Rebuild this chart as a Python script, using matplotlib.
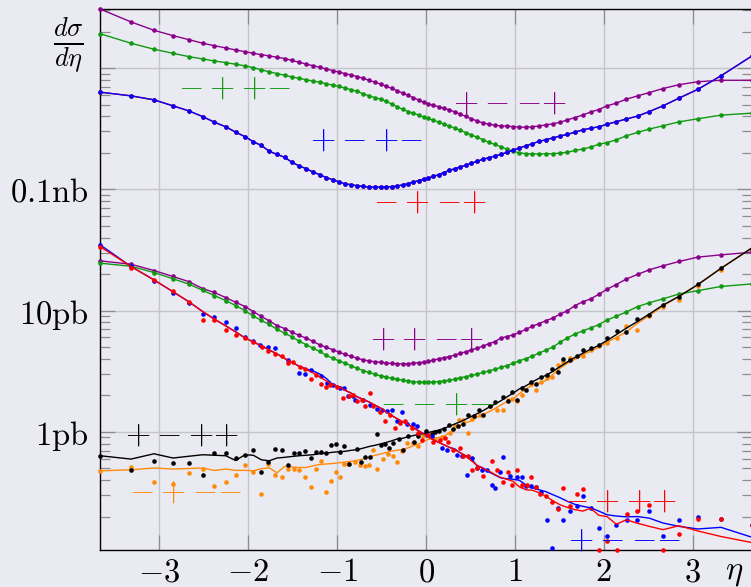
import matplotlib
matplotlib.use('Agg')
import matplotlib.pyplot as plt
from matplotlib.ticker import LogLocator, NullFormatter, NullLocator

plt.rcParams['mathtext.fontset'] = 'cm'
plt.rcParams['font.family'] = ['DejaVu Serif']

# eta bins shared by all the smooth curves
ETA = [-3.667, -3.318, -3.060, -2.846, -2.666, -2.512, -2.382, -2.253, -2.141, -2.036,
       -1.943, -1.852, -1.763, -1.676, -1.591, -1.508, -1.427, -1.348, -1.271, -1.196,
       -1.122, -1.050, -0.979, -0.909, -0.840, -0.772, -0.705, -0.639, -0.574, -0.510,
       -0.447, -0.385, -0.323, -0.262, -0.201, -0.141, -0.084, -0.028,
       0.028, 0.084, 0.141, 0.201, 0.262, 0.323, 0.385, 0.447, 0.510, 0.574,
       0.639, 0.705, 0.772, 0.840, 0.909, 0.979, 1.050, 1.122, 1.196, 1.271,
       1.348, 1.427, 1.508, 1.591, 1.676, 1.763, 1.852, 1.943, 2.036, 2.141,
       2.253, 2.382, 2.512, 2.666, 2.846, 3.060, 3.318, 3.667]

# d sigma / d eta in pb
TOP_PURPLE = [3071, 2402, 2050, 1851, 1715, 1602, 1530, 1466, 1410, 1365,
              1324, 1290, 1259, 1228, 1199, 1156, 1117, 1079, 1045, 1017,
              983, 953, 926, 900, 875, 851, 823, 792, 764, 737,
              710, 679, 650, 622, 594, 570, 546, 523,
              507, 493, 480, 466, 452, 435, 417, 399, 382, 367,
              353, 345, 338, 334, 332, 329, 326, 325, 328, 333,
              340, 347, 357, 374, 391, 410, 434, 455, 488, 514,
              554, 590, 628, 678, 729, 772, 793, 793]
TOP_GREEN = [1921, 1602, 1430, 1324, 1242, 1189, 1145, 1109, 1076, 1042,
             1009, 966, 932, 900, 873, 846, 823, 802, 781, 764,
             742, 723, 705, 684, 662, 641, 613, 590, 571, 553,
             532, 504, 480, 456, 438, 423, 410, 396,
             384, 371, 359, 345, 332, 320, 307, 294, 281, 269,
             257, 244, 235, 225, 214, 206, 200, 197, 196, 196,
             196, 197, 199, 202, 209, 215, 223, 235, 243, 256,
             276, 295, 314, 334, 360, 382, 409, 425]
TOP_BLUE = [633, 590, 547, 488, 443, 398, 358, 328, 296, 272,
            247, 230, 206, 194, 184, 167, 156, 148, 139, 132,
            125, 120, 115, 111, 109, 107, 105.5, 104.5, 104.3, 104.3,
            104.7, 105.3, 106.3, 109, 111.6, 114.7, 118, 121,
            124, 128, 132, 137.5, 143, 148, 152.6, 158, 164, 170,
            177, 182, 188, 194, 201.5, 210, 219, 228, 238, 248,
            256.5, 265, 275, 284, 296, 309, 319, 328, 344, 361,
            380, 402, 438, 488, 565, 669, 863, 1259]
TOP_RED = list(TOP_BLUE)  # the red curve sits under the blue one
MID_PURPLE = [25.7, 24.1, 21.4, 19.1, 17.3, 15.2, 14.1, 12.8, 11.7, 10.8,
              9.82, 8.94, 8.22, 7.52, 7.11, 6.65, 6.23, 5.93, 5.57, 5.22,
              4.98, 4.76, 4.54, 4.35, 4.19, 4.04, 3.92, 3.84, 3.78, 3.75,
              3.69, 3.66, 3.65, 3.63, 3.65, 3.68, 3.72, 3.75,
              3.81, 3.90, 4.00, 4.08, 4.17, 4.29, 4.44, 4.57, 4.74, 4.90,
              5.08, 5.33, 5.53, 5.92, 6.11, 6.29, 6.60, 7.00, 7.42, 7.81,
              8.25, 8.68, 9.34, 9.97, 11.0, 11.8, 12.5, 13.6, 15.0, 16.4,
              18.2, 19.9, 21.7, 23.4, 25.4, 27.6, 28.8, 30.3]
MID_GREEN = [24.6, 23.2, 20.6, 18.3, 16.5, 14.7, 13.3, 12.1, 11.0, 9.97,
             9.02, 8.29, 7.68, 7.01, 6.52, 6.06, 5.60, 5.23, 4.90, 4.60,
             4.27, 4.04, 3.85, 3.67, 3.51, 3.33, 3.20, 3.09, 2.98, 2.89,
             2.83, 2.77, 2.71, 2.67, 2.62, 2.59, 2.58, 2.56,
             2.56, 2.58, 2.60, 2.63, 2.66, 2.72, 2.79, 2.85, 2.92, 2.99,
             3.09, 3.18, 3.27, 3.40, 3.52, 3.67, 3.85, 4.02, 4.20, 4.46,
             4.71, 5.02, 5.47, 5.95, 6.40, 6.80, 7.19, 7.65, 8.37, 8.98,
             9.74, 10.8, 11.6, 12.5, 13.7, 14.6, 15.8, 16.6]

# lines of the noisy channels
DESC_RED_LINE = [33.7, 23.1, 17.9, 14.3, 11.8, 9.82, 8.51, 7.48, 6.67, 5.95,
                 5.52, 5.12, 4.74, 4.39, 4.03, 3.74, 3.47, 3.27, 3.06, 2.84,
                 2.63, 2.46, 2.35, 2.20, 2.08, 1.94, 1.85, 1.76, 1.66, 1.57,
                 1.46, 1.36, 1.28, 1.21, 1.15, 1.08, 1.02, 0.964,
                 0.911, 0.859, 0.819, 0.782, 0.745, 0.711, 0.672, 0.629, 0.577, 0.530,
                 0.500, 0.477, 0.446, 0.421, 0.406, 0.391, 0.352, 0.333, 0.330, 0.315,
                 0.294, 0.270, 0.250, 0.238, 0.228, 0.222, 0.234, 0.205, 0.200, 0.173,
                 0.188, 0.176, 0.166, 0.156, 0.168, 0.152, 0.137, 0.122]
DESC_BLUE_LINE = [34.9, 23.1, 17.9, 14.3, 11.8, 9.82, 8.51, 7.48, 6.67, 5.95,
                  5.52, 5.12, 4.74, 4.39, 4.03, 3.74, 3.47, 3.30, 3.18, 3.00,
                  2.76, 2.46, 2.35, 2.20, 2.08, 1.94, 1.85, 1.76, 1.66, 1.57,
                  1.46, 1.36, 1.28, 1.21, 1.15, 1.08, 1.02, 0.964,
                  0.911, 0.859, 0.819, 0.782, 0.745, 0.724, 0.672, 0.635, 0.599, 0.525,
                  0.505, 0.468, 0.442, 0.417, 0.410, 0.406, 0.398, 0.366, 0.345, 0.333,
                  0.321, 0.303, 0.286, 0.267, 0.252, 0.243, 0.236, 0.222, 0.207, 0.202,
                  0.199, 0.200, 0.194, 0.177, 0.166, 0.158, 0.163, 0.135]
ASC_BLACK_LINE = [0.635, 0.596, 0.659, 0.608, 0.629, 0.647, 0.641, 0.635, 0.580, 0.647,
                  0.641, 0.588, 0.577, 0.608, 0.616, 0.626, 0.635, 0.641, 0.647, 0.659,
                  0.668, 0.678, 0.685, 0.691, 0.704, 0.713, 0.734, 0.757, 0.774, 0.795,
                  0.818, 0.843, 0.874, 0.885, 0.911, 0.932, 0.953, 0.967,
                  0.987, 1.01, 1.03, 1.07, 1.11, 1.16, 1.21, 1.27, 1.34, 1.41,
                  1.49, 1.59, 1.69, 1.80, 1.94, 2.08, 2.26, 2.39, 2.58, 2.76,
                  2.92, 3.15, 3.45, 3.77, 4.11, 4.44, 4.80, 5.16, 5.66, 6.33,
                  7.16, 8.15, 9.36, 11.1, 13.1, 16.4, 22.3, 32.9]
ASC_ORANGE_LINE = [0.477, 0.486, 0.503, 0.493, 0.498, 0.503, 0.480, 0.493, 0.481, 0.481,
                   0.477, 0.496, 0.505, 0.459, 0.518, 0.513, 0.507, 0.508, 0.525, 0.537,
                   0.543, 0.548, 0.555, 0.563, 0.572, 0.582, 0.596, 0.619, 0.641, 0.656,
                   0.675, 0.695, 0.704, 0.717, 0.738, 0.767, 0.795, 0.827,
                   0.870, 0.885, 0.896, 0.919, 0.983, 1.05, 1.13, 1.19, 1.23, 1.32,
                   1.38, 1.46, 1.55, 1.66, 1.77, 1.87, 2.06, 2.26, 2.41, 2.53,
                   2.65, 2.97, 3.35, 3.67, 3.96, 4.31, 4.62, 4.99, 5.48, 6.00,
                   6.67, 7.88, 9.10, 10.9, 13.1, 16.4, 22.3, 32.9]

# scattered points of the noisy channels
DESC_RED_DOT_ETA = [-3.667, -3.318, -3.060, -2.846, -2.666, -2.512, -2.382, -2.253, -2.141, -2.036,
                    -1.943, -1.848, -1.774, -1.699, -1.623, -1.549, -1.493, -1.417, -1.361, -1.293,
                    -1.237, -1.181, -1.125, -1.080, -1.004, -0.930, -0.863, -0.818, -0.780, -0.723,
                    -0.686, -0.630, -0.593, -0.517, -0.461, -0.405, -0.349, -0.292, -0.236, -0.161,
                    -0.087, -0.048, 0.026, 0.082, 0.157, 0.214, 0.251, 0.307, 0.382, 0.420,
                    0.476, 0.514, 0.570, 0.645, 0.739, 0.795, 0.870, 0.926, 0.964, 1.020,
                    1.076, 1.133, 1.181, 1.237, 1.282, 1.350, 1.414, 1.488, 1.544, 1.620,
                    1.695, 1.769, 1.946, 2.033, 2.145, 2.258, 2.377, 2.512, 2.670, 2.846,
                    3.056, 3.318, 3.667]
DESC_RED_DOT = [33.7, 22.6, 17.9, 14.6, 11.8, 8.38, 8.38, 6.93, 6.31, 5.93,
                5.48, 5.05, 4.65, 4.39, 4.18, 3.68, 3.73, 3.45, 3.32, 2.72,
                2.95, 2.48, 2.36, 2.44, 2.36, 1.90, 1.99, 2.02, 1.78, 1.84,
                1.62, 2.09, 1.62, 1.47, 1.22, 1.38, 1.07, 1.18, 1.22, 1.07,
                0.980, 0.859, 0.946, 0.832, 0.859, 0.890, 0.832, 0.711, 0.734, 0.635,
                0.626, 0.486, 0.503, 0.434, 0.580, 0.486, 0.389, 0.469, 0.366, 0.486,
                0.366, 0.361, 0.424, 0.354, 0.309, 0.294, 0.266, 0.230, 0.344, 0.246,
                0.309, 0.337, 0.106, 0.125, 0.106, 0.210, 0.221, 0.250, 0.106, 0.144,
                0.191, 0.191, 0.171]
DESC_BLUE_DOT_ETA = [-3.667, -3.318, -3.060, -2.846, -2.666, -2.512, -2.382, -2.253, -2.141, -2.036,
                     -1.943, -1.867, -1.774, -1.699, -1.549, -1.425, -1.361, -1.293, -1.181, -1.117,
                     -1.043, -0.967, -0.919, -0.874, -0.825, -0.799, -0.705, -0.630, -0.555, -0.498,
                     -0.442, -0.386, -0.330, -0.273, -0.217, -0.143, -0.105, 0.008, 0.064, 0.177,
                     0.233, 0.345, 0.402, 0.458, 0.514, 0.570, 0.627, 0.683, 0.739, 0.776,
                     0.832, 0.870, 0.945, 1.020, 1.076, 1.125, 1.181, 1.237, 1.290, 1.358,
                     1.414, 1.488, 1.544, 1.620, 1.695, 1.769, 1.856, 1.946, 2.033, 2.137,
                     2.258, 2.377, 2.512, 2.670, 2.846, 3.056, 3.318, 3.667]
DESC_BLUE_DOT = [34.9, 23.4, 17.7, 13.9, 11.5, 9.36, 8.80, 8.00, 7.17, 6.11,
                 5.62, 5.21, 5.05, 4.88, 3.92, 3.08, 3.00, 3.24, 2.89, 2.53,
                 2.44, 2.29, 2.29, 1.96, 1.98, 1.84, 1.84, 1.67, 1.55, 1.52,
                 1.49, 1.52, 1.22, 1.47, 1.15, 1.15, 1.11, 0.946, 0.915, 0.734,
                 0.711, 0.647, 0.626, 0.442, 0.608, 0.503, 0.486, 0.486, 0.366, 0.344,
                 0.469, 0.620, 0.434, 0.424, 0.424, 0.359, 0.359, 0.352, 0.321, 0.186,
                 0.111, 0.235, 0.186, 0.221, 0.246, 0.294, 0.235, 0.160, 0.138, 0.171,
                 0.186, 0.186, 0.224, 0.138, 0.186, 0.199, 0.191, 0.171]
ASC_BLACK_DOT_ETA = [-3.667, -3.318, -3.060, -2.846, -2.666, -2.512, -2.382, -2.253, -2.141, -2.036,
                     -1.943, -1.856, -1.774, -1.699, -1.623, -1.549, -1.481, -1.425, -1.361, -1.297,
                     -1.241, -1.181, -1.125, -1.066, -1.016, -0.967, -0.920, -0.870, -0.780, -0.735,
                     -0.683, -0.630, -0.555, -0.506, -0.465, -0.413, -0.375, -0.304, -0.255, -0.199,
                     -0.135, -0.087, 0.000, 0.064, 0.101, 0.150, 0.202, 0.262, 0.307, 0.363,
                     0.420, 0.476, 0.540, 0.600, 0.645, 0.720, 0.776, 0.870, 0.919, 0.971,
                     1.020, 1.076, 1.125, 1.181, 1.237, 1.294, 1.358, 1.414, 1.481, 1.544,
                     1.620, 1.695, 1.769, 1.856, 1.949, 2.033, 2.145, 2.250, 2.370, 2.508,
                     2.666, 2.846, 3.056, 3.318, 3.667]
ASC_BLACK_DOT = [0.635, 0.480, 0.577, 0.556, 0.556, 0.442, 0.668, 0.668, 0.605, 0.643,
                 0.702, 0.468, 0.561, 0.724, 0.711, 0.528, 0.668, 0.668, 0.689, 0.608,
                 0.678, 0.678, 0.668, 0.774, 0.797, 0.685, 0.767, 0.545, 0.724, 0.566,
                 0.621, 0.621, 0.964, 0.782, 0.795, 0.738, 0.815, 0.872, 0.702, 0.916,
                 0.832, 0.929, 1.01, 0.964, 0.995, 1.01, 1.06, 1.13, 1.06, 1.11,
                 1.17, 1.38, 1.34, 1.52, 1.38, 1.64, 1.75, 1.95, 1.78, 2.15,
                 1.82, 2.29, 2.22, 2.58, 2.48, 2.85, 2.92, 3.30, 3.14, 4.00,
                 3.92, 4.18, 4.74, 4.95, 5.21, 5.93, 6.84, 6.71, 8.47, 9.19,
                 11.2, 12.9, 16.5, 22.6, 32.3]
ASC_ORANGE_DOT_ETA = [-3.667, -3.318, -3.060, -2.846, -2.666, -2.512, -2.382, -2.253, -2.141, -2.036,
                      -1.943, -1.856, -1.774, -1.699, -1.623, -1.549, -1.481, -1.425, -1.361, -1.297,
                      -1.240, -1.184, -1.125, -1.071, -1.017, -0.967, -0.920, -0.872, -0.799, -0.742,
                      -0.686, -0.638, -0.593, -0.555, -0.480, -0.424, -0.368, -0.330, -0.267, -0.217,
                      -0.143, -0.087, -0.030, 0.045, 0.101, 0.177, 0.270, 0.326, 0.375, 0.420,
                      0.469, 0.514, 0.607, 0.720, 0.795, 0.870, 0.919, 0.971, 1.020, 1.076,
                      1.181, 1.237, 1.294, 1.358, 1.414, 1.481, 1.544, 1.620, 1.769, 1.856,
                      1.949, 2.033, 2.145, 2.250, 2.370, 2.508, 2.666, 2.846, 3.056, 3.318,
                      3.667]
ASC_ORANGE_DOT = [0.477, 0.512, 0.385, 0.373, 0.455, 0.496, 0.359, 0.385, 0.442, 0.528,
                  0.470, 0.308, 0.543, 0.442, 0.421, 0.496, 0.491, 0.486, 0.427, 0.354,
                  0.494, 0.577, 0.318, 0.394, 0.462, 0.421, 0.540, 0.543, 0.566, 0.535,
                  0.525, 0.528, 0.711, 0.493, 0.596, 0.656, 0.626, 0.566, 0.689, 0.815,
                  0.805, 0.767, 0.916, 0.906, 0.870, 0.906, 0.980, 1.13, 1.24, 1.24,
                  0.980, 1.27, 1.38, 1.62, 1.52, 1.52, 1.84, 1.87, 1.78, 2.02,
                  2.48, 2.22, 2.58, 2.77, 2.85, 3.57, 3.73, 4.09, 4.23, 4.74,
                  5.12, 5.38, 5.93, 7.48, 6.93, 9.02, 10.8, 12.3, 16.0, 21.7,
                  32.3]

# helicity labels: (text, eta, sigma, colour key)
LABELS = [
    (r'${-}\:{+}\:{+}{-}$', -2.15, 686, 'green'),
    (r'${+}\:{-}\:{+}{-}$', -0.664, 257, 'blue'),
    (r'${-}\:{+}\:{-}{+}$', 0.045, 79.8, 'red'),
    (r'${+}\:{-}\:{-}{+}$', 0.941, 520, 'purple'),
    (r'${+}\:{+}\:{-}{+}$', 0.009, 5.92, 'purple'),
    (r'${-}\:{-}\:{+}{-}$', 0.12, 1.72, 'green'),
    (r'${+}\:{-}\:{+}{+}$', -2.748, 0.95, 'black'),
    (r'${-}\:{+}\:{-}{-}$', -2.703, 0.323, 'orange'),
    (r'${-}\:{+}\:{+}{+}$', 2.188, 0.272, 'red'),
    (r'${+}\:{-}\:{-}{-}$', 2.23, 0.129, 'blue'),
]

COL = {'purple': '#8a008a', 'green': '#109a10', 'blue': '#0000ff',
       'red': '#ff0000', 'black': '#000000', 'orange': '#ff8a0a'}
BG = '#eaeaf2'
FS = 23.5

fig = plt.figure(figsize=(7.51, 5.87), dpi=100, facecolor=BG)
ax = fig.add_axes([100 / 751, 37 / 587, 652 / 751, 541 / 587])
ax.set_facecolor(BG)
ax.set_yscale('log')


def curve(y, c, z):
    ax.plot(ETA, y, color=c, lw=1.0, marker='o', ms=3.3, mew=0,
            clip_on=False, zorder=z)


def noisy(line, dx, dy, c, z):
    ax.plot(ETA, line, color=c, lw=1.0, zorder=z, clip_on=False)
    ax.plot(dx, dy, ls='none', marker='o', ms=3.3, mew=0, color=c,
            clip_on=False, zorder=z)


curve(TOP_PURPLE, COL['purple'], 3)
curve(TOP_GREEN, COL['green'], 3)
curve(TOP_RED, COL['red'], 3)
curve(TOP_BLUE, COL['blue'], 3)
curve(MID_PURPLE, COL['purple'], 3)
curve(MID_GREEN, COL['green'], 3)
noisy(ASC_ORANGE_LINE, ASC_ORANGE_DOT_ETA, ASC_ORANGE_DOT, COL['orange'], 3)
noisy(ASC_BLACK_LINE, ASC_BLACK_DOT_ETA, ASC_BLACK_DOT, COL['black'], 3)
noisy(DESC_BLUE_LINE, DESC_BLUE_DOT_ETA, DESC_BLUE_DOT, COL['blue'], 3)
noisy(DESC_RED_LINE, DESC_RED_DOT_ETA, DESC_RED_DOT, COL['red'], 3)

for txt, x, y, c in LABELS:
    ax.text(x, y, txt, color=COL[c], fontsize=FS, ha='center', va='center',
            zorder=4, clip_on=False)

ax.set_xlim(-3.667, 3.667)
ax.set_ylim(0.106, 3070)

ax.set_xticks([-3, -2, -1, 0, 1, 2, 3])
ax.set_xticklabels([r'$-3$', r'$-2$', r'$-1$', r'$0$', r'$1$', r'$2$', r'$3$'])
ax.xaxis.set_minor_locator(NullLocator())
ax.set_yticks([1, 10, 100, 1000])
ax.set_yticklabels([r'$1\mathrm{pb}$', r'$10\mathrm{pb}$', r'$0.1\mathrm{nb}$', ''])
ax.yaxis.set_minor_locator(LogLocator(base=10, subs=range(2, 10), numticks=20))
ax.yaxis.set_minor_formatter(NullFormatter())

ax.grid(True, which='major', color='#c6c6ca', lw=1.0)
ax.set_axisbelow(True)
ax.tick_params(which='both', direction='in', top=True, right=True,
               color='#8c8c8c', labelsize=FS)
ax.tick_params(which='major', length=10.5, width=0.9)
ax.tick_params(which='minor', length=7, width=0.9)
ax.tick_params(axis='y', which='major', pad=8)
ax.tick_params(axis='x', which='major', pad=4.5)
for s in ax.spines.values():
    s.set_color('black')
    s.set_linewidth(1.0)

fig.text(68 / 751, 1 - 45 / 587, r'$\frac{d\sigma}{d\eta}$', fontsize=27,
         ha='center', va='center')
ax.text(3.465, -0.0407, r'$\eta$', fontsize=FS, ha='center', va='center',
        transform=ax.get_xaxis_transform())

fig.savefig('out.png', dpi=100, facecolor=BG)
